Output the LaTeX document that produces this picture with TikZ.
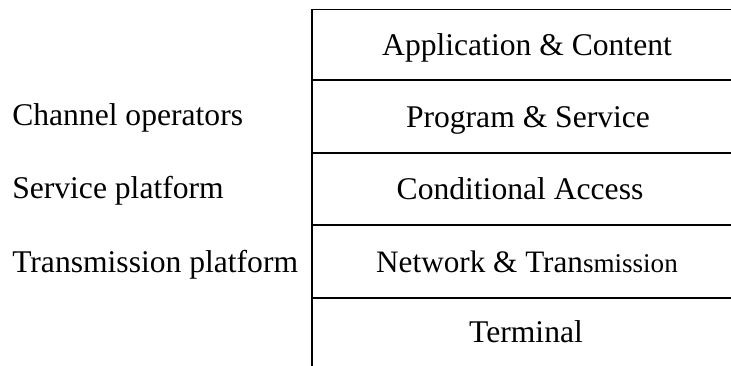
\documentclass[tikz,border=0pt]{standalone}
\usepackage{fontspec}
\setmainfont{Liberation Serif}
\begin{document}
\begin{tikzpicture}[x=0.75pt,y=-0.75pt,
  lbl/.style={inner sep=0pt, anchor=base, font=\fontsize{23.7}{28}\selectfont},
  side/.style={inner sep=0pt, anchor=base west, font=\fontsize{23.7}{28}\selectfont},
  rule/.style={line width=1.2pt, line cap=rect}]
\useasboundingbox (0,0) rectangle (731,365);
% grid coordinates
\coordinate (t0) at (312,9.5);
\coordinate (t1) at (312,80);
\coordinate (t2) at (312,153);
\coordinate (t3) at (312,225);
\coordinate (t4) at (312,298);
\coordinate (b)  at (312,365);
\coordinate (r0) at (731,9.5);
\coordinate (r1) at (731,80);
\coordinate (r2) at (731,153);
\coordinate (r3) at (731,225);
\coordinate (r4) at (731,298);
\draw[rule] (r0) -- (t0) -- (b);
\draw[rule] (t1) -- (r1);
\draw[rule] (t2) -- (r2);
\draw[rule] (t3) -- (r3);
\draw[rule] (t4) -- (r4);
% layer texts
\node[lbl] (app) at (527,55.5) {Application \& Content};
\node[lbl] (prog) at (528,127) {Program \& Service};
\node[lbl] (ca) at (520,199.5) {Conditional Access};
\node[lbl] (net) at (527,272) {\fontsize{23.4}{28}\selectfont Network \& Tran{\fontsize{20.3}{24}\selectfont smission}};
\node[lbl] (term) at (526,342) {Terminal};
% side labels
\node[side] (chan) at (12,125) {Channel operators};
\node[side] (serv) at (12,198.5) {Service platform};
\node[side] (trans) at (12,272) {Transmission platform};
\end{tikzpicture}
\end{document}
